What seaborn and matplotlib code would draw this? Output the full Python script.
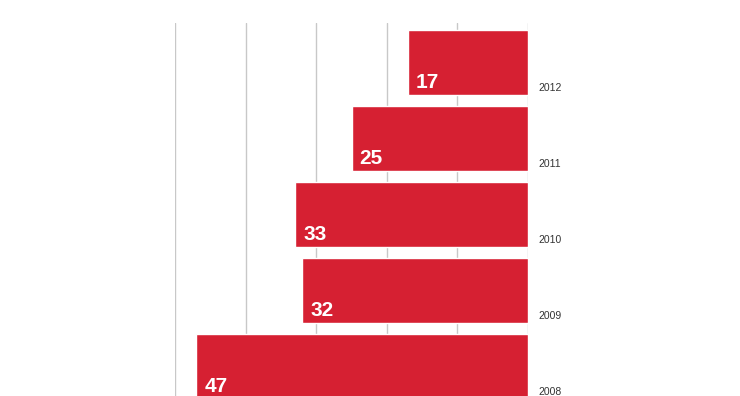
import pandas as pd
import matplotlib.pyplot as plt
import seaborn as sns

# Data (top to bottom)
years = ['2012', '2011', '2010', '2009', '2008']
values = [17, 25, 33, 32, 47]

bar_color = '#d62032'
grid_color = '#c8c8c8'

df = pd.DataFrame({'year': years, 'value': values})

sns.set_style('white')
plt.rcParams['font.family'] = ['Liberation Sans', 'DejaVu Sans']

fig = plt.figure(figsize=(7.4, 3.96), dpi=100)
ax = fig.add_axes([175 / 740, 0.0, (528 - 175) / 740, 1 - 23 / 396])

bar_h = 0.86
sns.barplot(data=df, x='value', y='year', order=years, orient='h',
            color=bar_color, saturation=1, width=bar_h, ax=ax, zorder=2)

# scale runs right to left, bars hang from the right edge
ax.set_xlim(50, 0)
ax.set_ylim(4.39, -0.52)
ax.set_xticks(range(0, 51, 10))
ax.grid(axis='x', color=grid_color, linewidth=1, zorder=0)
ax.set_axisbelow(True)
ax.tick_params(left=False, bottom=False, labelleft=False, labelbottom=False)
ax.set_xlabel('')
ax.set_ylabel('')
for s in ax.spines.values():
    s.set_visible(False)

for i, (yr, v) in enumerate(zip(years, values)):
    bottom = i + bar_h / 2
    # value label, inside bar at its lower-left corner
    ax.annotate(str(v), xy=(v, bottom), xytext=(8, 7), textcoords='offset pixels',
                ha='left', va='baseline', color='white', fontsize=15,
                fontweight='bold', zorder=3, annotation_clip=False)
    # year label to the right of the axis
    ax.annotate(yr, xy=(0, bottom), xytext=(10, 4), textcoords='offset pixels',
                ha='left', va='baseline', color='#333333', fontsize=7.5,
                annotation_clip=False)

fig.savefig('out.png', dpi=100)
